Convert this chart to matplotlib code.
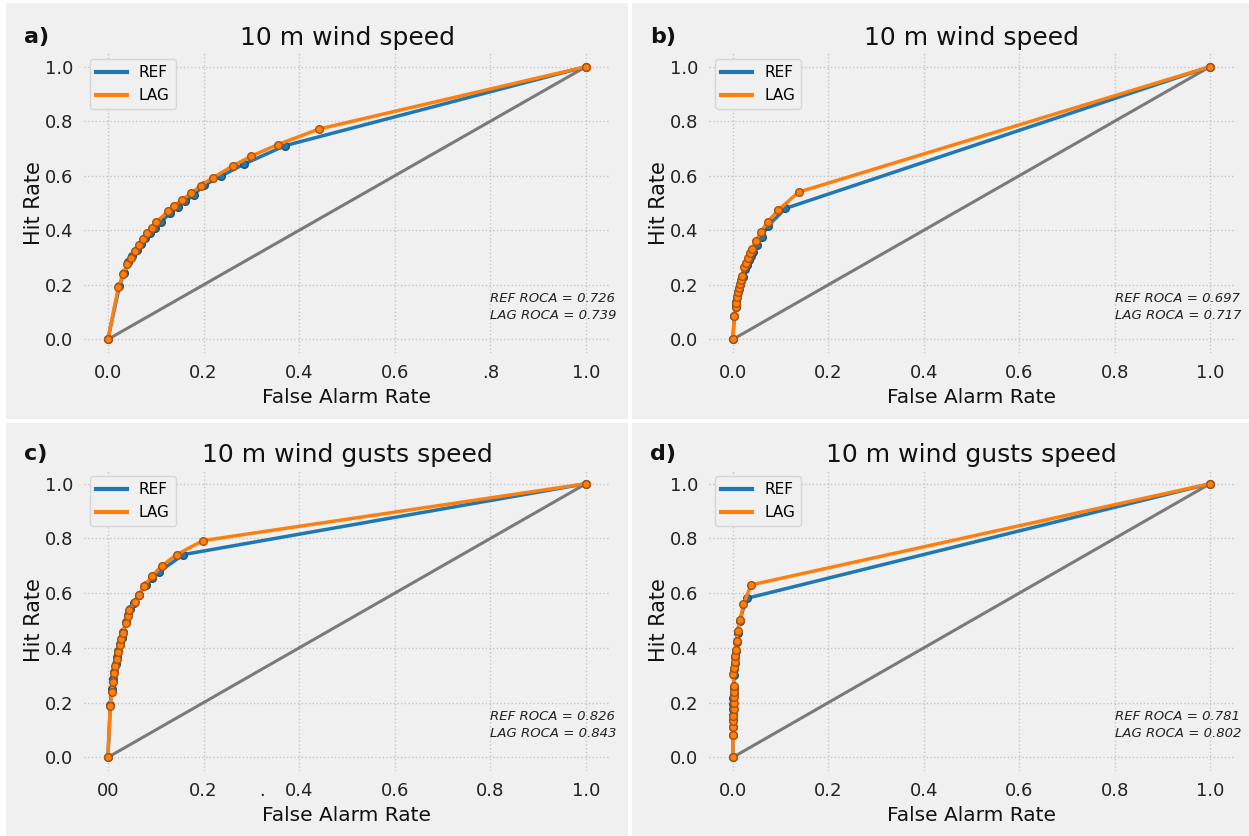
import matplotlib
matplotlib.use("Agg")
import matplotlib.pyplot as plt
from matplotlib.patches import Rectangle

# ROC points (false alarm rate, hit rate)
a_ref_far = [0, 0.024, 0.034, 0.043, 0.051, 0.060, 0.069, 0.078, 0.088, 0.099, 0.110, 0.130, 0.146, 0.162, 0.180, 0.201, 0.237, 0.285, 0.370, 1]
a_ref_hr = [0, 0.195, 0.245, 0.282, 0.305, 0.326, 0.348, 0.370, 0.391, 0.410, 0.430, 0.462, 0.484, 0.506, 0.531, 0.565, 0.599, 0.643, 0.710, 1]
a_lag_far = [0, 0.022, 0.032, 0.040, 0.048, 0.056, 0.065, 0.073, 0.082, 0.092, 0.101, 0.125, 0.139, 0.155, 0.174, 0.194, 0.219, 0.261, 0.300, 0.355, 0.441, 1]
a_lag_hr = [0, 0.193, 0.239, 0.275, 0.300, 0.324, 0.347, 0.369, 0.390, 0.408, 0.429, 0.469, 0.490, 0.512, 0.535, 0.564, 0.592, 0.636, 0.672, 0.714, 0.771, 1]

b_ref_far = [0, 0.003, 0.006, 0.007, 0.009, 0.011, 0.013, 0.015, 0.018, 0.021, 0.025, 0.029, 0.033, 0.037, 0.042, 0.050, 0.060, 0.073, 0.110, 1]
b_ref_hr = [0, 0.085, 0.120, 0.137, 0.155, 0.172, 0.186, 0.200, 0.214, 0.230, 0.258, 0.274, 0.290, 0.307, 0.322, 0.345, 0.376, 0.415, 0.480, 1]
b_lag_far = [0, 0.003, 0.006, 0.007, 0.008, 0.010, 0.013, 0.015, 0.017, 0.020, 0.024, 0.028, 0.031, 0.036, 0.040, 0.048, 0.059, 0.073, 0.095, 0.138, 1]
b_lag_hr = [0, 0.085, 0.117, 0.135, 0.154, 0.172, 0.188, 0.202, 0.217, 0.234, 0.264, 0.281, 0.297, 0.315, 0.332, 0.359, 0.395, 0.431, 0.474, 0.540, 1]

c_ref_far = [0, 0.005, 0.008, 0.011, 0.013, 0.016, 0.019, 0.022, 0.026, 0.029, 0.032, 0.038, 0.042, 0.046, 0.055, 0.064, 0.080, 0.093, 0.107, 0.158, 1]
c_ref_hr = [0, 0.190, 0.250, 0.285, 0.312, 0.340, 0.366, 0.390, 0.413, 0.436, 0.458, 0.495, 0.520, 0.541, 0.565, 0.594, 0.630, 0.657, 0.678, 0.741, 1]
c_lag_far = [0, 0.005, 0.008, 0.011, 0.013, 0.015, 0.019, 0.022, 0.025, 0.028, 0.031, 0.037, 0.041, 0.045, 0.056, 0.065, 0.075, 0.093, 0.113, 0.144, 0.199, 1]
c_lag_hr = [0, 0.187, 0.239, 0.277, 0.307, 0.334, 0.360, 0.385, 0.409, 0.431, 0.453, 0.492, 0.516, 0.538, 0.566, 0.594, 0.626, 0.663, 0.700, 0.741, 0.792, 1]

d_ref_far = [0, 0.0, 0.0, 0.001, 0.001, 0.001, 0.001, 0.001, 0.002, 0.002, 0.002, 0.003, 0.004, 0.005, 0.006, 0.008, 0.010, 0.014, 0.029, 1]
d_ref_hr = [0, 0.083, 0.112, 0.135, 0.155, 0.176, 0.196, 0.216, 0.236, 0.255, 0.300, 0.322, 0.345, 0.368, 0.390, 0.420, 0.455, 0.500, 0.581, 1]
d_lag_far = [0, 0.0, 0.0, 0.0, 0.001, 0.002, 0.002, 0.002, 0.002, 0.002, 0.001, 0.002, 0.004, 0.005, 0.006, 0.008, 0.010, 0.015, 0.022, 0.038, 1]
d_lag_hr = [0, 0.083, 0.110, 0.134, 0.150, 0.178, 0.199, 0.219, 0.239, 0.260, 0.304, 0.325, 0.347, 0.370, 0.393, 0.425, 0.462, 0.502, 0.559, 0.630, 1]

titles = ["10 m wind speed", "10 m wind speed", "10 m wind gusts speed", "10 m wind gusts speed"]
letters = ["a)", "b)", "c)", "d)"]
roca_ref = [0.726, 0.697, 0.826, 0.781]
roca_lag = [0.739, 0.717, 0.843, 0.802]
xtick_labels = [["0.0", "0.2", "0.4", "0.6", ".8", "1.0"],
                ["0.0", "0.2", "0.4", "0.6", "0.8", "1.0"],
                ["00", "0.2", "0.4", "0.6", "0.8", "1.0"],
                ["0.0", "0.2", "0.4", "0.6", "0.8", "1.0"]]
ticks = [0.0, 0.2, 0.4, 0.6, 0.8, 1.0]

panels = [(a_ref_far, a_ref_hr, a_lag_far, a_lag_hr),
          (b_ref_far, b_ref_hr, b_lag_far, b_lag_hr),
          (c_ref_far, c_ref_hr, c_lag_far, c_lag_hr),
          (d_ref_far, d_ref_hr, d_lag_far, d_lag_hr)]

W, H = 1249, 836
fig = plt.figure(figsize=(W / 100, H / 100), dpi=100, facecolor="white")

bg = "#f0f0f0"
# grey panel backgrounds (pixel boxes: x0, y0, x1, y1 from top-left)
boxes = [(6, 3, 628, 419), (632, 3, 1249, 419), (6, 423, 628, 836), (632, 423, 1249, 836)]
for x0, y0, x1, y1 in boxes:
    fig.patches.append(Rectangle((x0 / W, 1 - y1 / H), (x1 - x0) / W, (y1 - y0) / H,
                                 transform=fig.transFigure, facecolor=bg, edgecolor="none", zorder=-5))

# axes boxes in pixels: left, top, right, bottom
ax_boxes = [(84, 53, 610, 353), (709, 53, 1234, 353), (84, 470, 610, 771), (709, 470, 1234, 771)]
letter_pos = [(24, 37), (650, 37), (24, 454), (650, 454)]

blue = "#1f77b4"
orange = "#ff7f0e"

for i, (rf, rh, lf, lh) in enumerate(panels):
    l, t, r, b = ax_boxes[i]
    ax = fig.add_axes([l / W, 1 - b / H, (r - l) / W, (b - t) / H])
    ax.set_facecolor(bg)
    for s in ax.spines.values():
        s.set_visible(False)

    ax.plot([0, 1], [0, 1], color="#7a7a7a", lw=2.2, zorder=1)
    ax.plot(rf, rh, color=blue, lw=2.5, label="REF", zorder=2)
    ax.plot(rf, rh, "o", color=blue, ms=5.5, mec="#16527e", mew=1, zorder=2)
    ax.plot(lf, lh, color=orange, lw=2.5, label="LAG", zorder=3)
    ax.plot(lf, lh, "o", color=orange, ms=5.5, mec="#a9500a", mew=1, zorder=3)

    ax.set_xlim(-0.05, 1.05)
    ax.set_ylim(-0.05, 1.05)
    ax.set_xticks(ticks, xtick_labels[i])
    ax.set_yticks(ticks, ["0.0", "0.2", "0.4", "0.6", "0.8", "1.0"])
    if i == 2:
        ax.set_xticks([0.322], ["."], minor=True)
    ax.tick_params(which="both", length=0, labelsize=13, colors="#222222", pad=8)
    ax.grid(True, which="major", linestyle=":", color="#c4c4c4", lw=1)
    ax.set_axisbelow(True)

    ax.set_title(titles[i], fontsize=18, pad=6, color="#111111")
    ax.set_xlabel("False Alarm Rate", fontsize=14.5, labelpad=4, color="#111111")
    ax.set_ylabel("Hit Rate", fontsize=15, labelpad=0, color="#111111")

    ax.text(0.8, 0.062, f"REF ROCA = {roca_ref[i]:.3f}\nLAG ROCA = {roca_lag[i]:.3f}",
            fontsize=9.5, style="italic", ha="left", va="bottom", color="#222222",
            linespacing=1.45)

    leg = ax.legend(loc="upper left", fontsize=11, frameon=True, facecolor=bg,
                    edgecolor="#d6d6d6", framealpha=1, handlelength=2.0,
                    borderaxespad=0.4)
    for line in leg.get_lines():
        line.set_linewidth(3)

    lx, ly = letter_pos[i]
    fig.text(lx / W, 1 - ly / H, letters[i], fontsize=16, fontweight="bold",
             ha="left", va="center", color="#111111")

fig.savefig("out.png", dpi=100, facecolor=fig.get_facecolor())
